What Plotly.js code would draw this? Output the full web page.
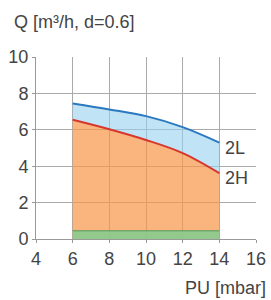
<!DOCTYPE html>
<html><head><meta charset="utf-8">
<script src="https://cdn.plot.ly/plotly-3.0.1.min.js"></script>
<style>html,body{margin:0;padding:0;background:#fff;}#c{width:271px;height:300px;}</style>
</head><body><div id="c"></div>
<script>
var pressure = [6, 8, 10, 12, 14];
var flow2L = [7.45, 7.12, 6.75, 6.15, 5.3];
var flow2H = [6.55, 6.03, 5.44, 4.72, 3.62];
var minFlow = [0.45, 0.45, 0.45, 0.45, 0.45];
var xTicks = [4, 6, 8, 10, 12, 14, 16];
var yTicks = [0, 2, 4, 6, 8, 10];
var labels = ['2L', '2H'];

var traces = [
  {x: pressure, y: flow2H, type: 'scatter', mode: 'lines', line: {color: '#d7372c', width: 2, shape: 'spline'},
   fill: 'tozeroy', fillcolor: 'rgba(247,150,70,0.7)', hoverinfo: 'skip'},
  {x: pressure, y: flow2L, type: 'scatter', mode: 'lines', line: {color: '#2a78c0', width: 2, shape: 'spline'},
   fill: 'tonexty', fillcolor: 'rgba(150,210,240,0.6)', hoverinfo: 'skip'},
  {x: pressure, y: minFlow, type: 'scatter', mode: 'lines', line: {color: '#4f9a5a', width: 1},
   fill: 'tozeroy', fillcolor: 'rgba(130,205,145,0.85)', hoverinfo: 'skip'}
];

var f = {family: 'Liberation Sans, Arial, sans-serif', size: 18, color: '#444'};
var layout = {
  width: 271, height: 300,
  margin: {l: 36, r: 15, t: 57, b: 61},
  paper_bgcolor: '#fff', plot_bgcolor: '#fff',
  showlegend: false,
  xaxis: {range: [4, 16], tickvals: xTicks, ticktext: xTicks.map(String), showgrid: true, gridcolor: '#aaa', gridwidth: 1,
          zeroline: false, showline: true, linecolor: '#999', ticks: 'outside', ticklen: 3, tickcolor: '#999', tickfont: f, fixedrange: true},
  yaxis: {range: [0, 10], tickvals: yTicks, ticktext: yTicks.map(String), showgrid: true, gridcolor: '#aaa', gridwidth: 1,
          zeroline: false, showline: true, linecolor: '#999', ticks: 'outside', ticklen: 3, tickcolor: '#999', tickfont: f, fixedrange: true},
  annotations: [
    {text: 'Q [m³/h, d=0.6]', xref: 'paper', yref: 'paper', x: -0.11, y: 1.19, xanchor: 'left', yanchor: 'middle', showarrow: false, font: f},
    {text: 'PU [mbar]', xref: 'paper', yref: 'paper', x: 1.055, y: -0.27, xanchor: 'right', yanchor: 'middle', showarrow: false, font: f},
    {text: labels[0], x: 14.2, y: 5.0, xanchor: 'left', yanchor: 'middle', showarrow: false, font: f},
    {text: labels[1], x: 14.2, y: 3.35, xanchor: 'left', yanchor: 'middle', showarrow: false, font: f}
  ]
};
Plotly.newPlot('c', traces, layout, {staticPlot: true, displayModeBar: false});
</script></body></html>
